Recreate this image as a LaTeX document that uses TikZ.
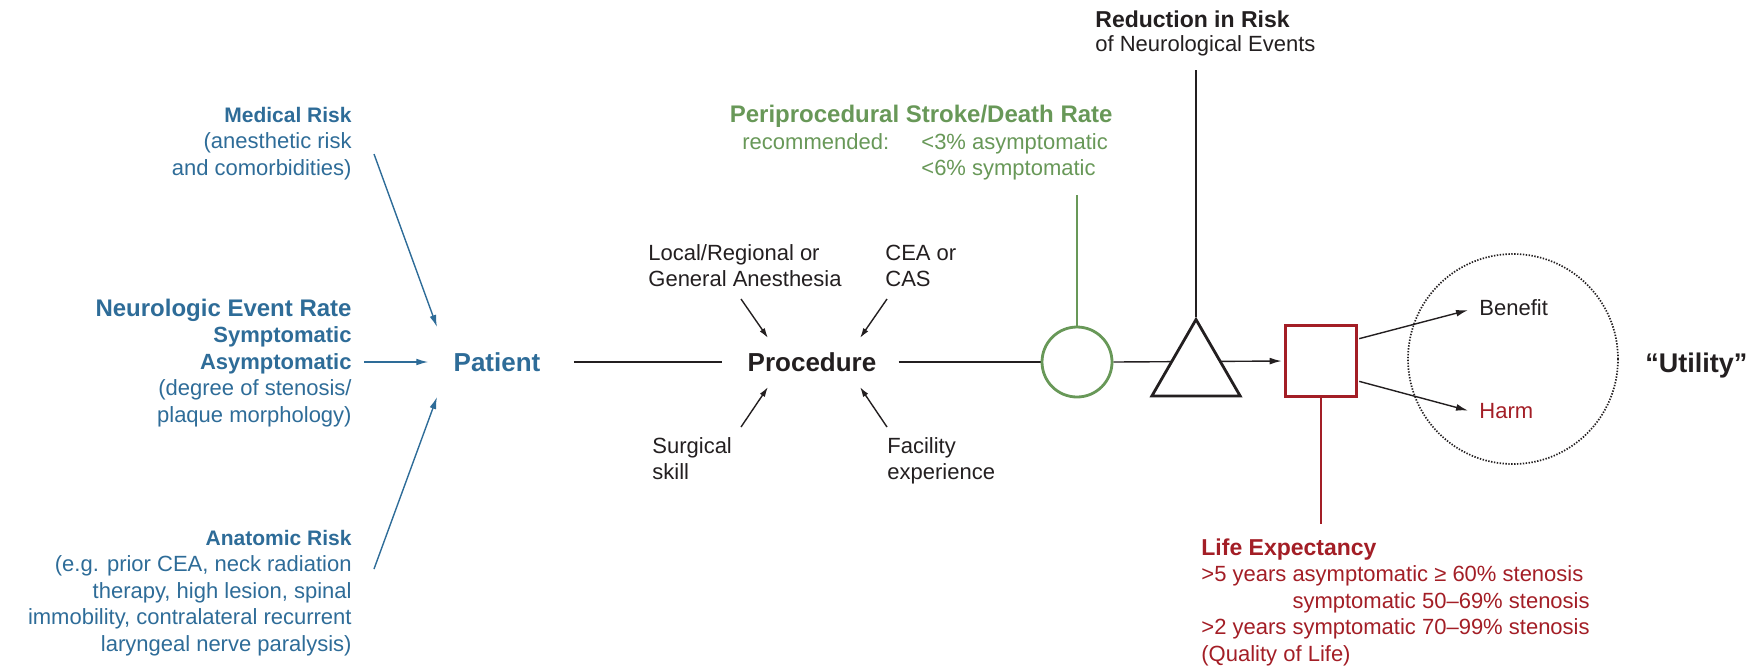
\documentclass[tikz,border=0pt]{standalone}
\usepackage{fontspec}
\setmainfont{Liberation Sans}
\usetikzlibrary{arrows.meta,shapes.geometric,backgrounds}
\definecolor{cblue}{RGB}{46,108,152}
\definecolor{cgreen}{RGB}{104,152,88}
\definecolor{cred}{RGB}{163,30,38}
\definecolor{cblack}{RGB}{35,31,32}
\newcommand\rblock[1]{\begin{tabular}[t]{@{}r@{}}#1\end{tabular}}
\newcommand\lblock[1]{\begin{tabular}[t]{@{}l@{}}#1\end{tabular}}
\newcommand\hd[1]{\fontsize{#1}{13.3}\selectfont\bfseries}
\begin{document}
\begin{tikzpicture}[x=0.5pt,y=-0.5pt,
  txt/.style={inner sep=0pt, font=\fontsize{11}{13.3}\selectfont},
  big/.style={inner sep=0pt, font=\fontsize{13}{15}\selectfont\bfseries},
  thinline/.style={line width=0.7pt},
  arr/.style={-{Latex[length=6pt,width=3.4pt]}, line width=0.7pt},
  sarr/.style={-{Latex[length=5pt,width=3pt]}, line width=0.7pt},
  shapeline/.style={line width=1.4pt}]
\useasboundingbox (0,0) rectangle (1764,671);

% left column texts
\node[txt, text=cblue, anchor=base east] (medical) at (352,122)
  {\rblock{\hd{10.5}Medical Risk\\(anesthetic risk\\and comorbidities)}};
\node[txt, text=cblue, anchor=base east] (neuro) at (352,316)
  {\rblock{\hd{12}Neurologic Event Rate\\\hd{11}Symptomatic\\\hd{11}Asymptomatic\\(degree of stenosis/\\plaque morphology)}};
\node[txt, text=cblue, anchor=base east] (anatomic) at (352,545)
  {\rblock{\hd{10.5}Anatomic Risk\\(e.g. prior CEA, neck radiation\\therapy, high lesion, spinal\\immobility, contralateral recurrent\\laryngeal nerve paralysis)}};

% main nodes
\node[big, text=cblue] (patient) at (497,362) {Patient};
\node[big, text=cblack] (procedure) at (812,362) {Procedure};

% procedure factors
\node[txt, text=cblack, anchor=base west] (anest) at (648,260) {\lblock{Local/Regional or\\General Anesthesia}};
\node[txt, text=cblack, anchor=base west] (ceacas) at (885,260) {\lblock{CEA or\\CAS}};
\node[txt, text=cblack, anchor=base west] (skill) at (652,453) {\lblock{Surgical\\skill}};
\node[txt, text=cblack, anchor=base west] (facility) at (887,453) {\lblock{Facility\\experience}};

% green texts
\node[txt, text=cgreen, anchor=base east] (peri) at (1113,122) {\hd{12}Periprocedural Stroke/Death Rate};
\node[txt, text=cgreen, anchor=base west] (recom) at (742,149) {recommended:};
\node[txt, text=cgreen, anchor=base west] (rates) at (921,149) {\lblock{<3\% asymptomatic\\<6\% symptomatic}};

% reduction text
\node[txt, text=cblack, anchor=base west] (reduction) at (1095,27)
  {\lblock{\hd{11.5}Reduction in Risk\\[-1.2pt]of Neurological Events}};

% life expectancy
\node[txt, text=cred, anchor=base west] (life) at (1201,555)
  {\lblock{\hd{11.5}Life Expectancy\\>5 years asymptomatic ≥ 60\% stenosis\\\hphantom{>5 years }symptomatic 50–69\% stenosis\\>2 years symptomatic 70–99\% stenosis\\(Quality of Life)}};

% shapes
\node[circle, draw=cgreen, shapeline, fill=white, minimum size=35pt, inner sep=0pt] (pcirc) at (1077,362) {};
\node[regular polygon, regular polygon sides=3, draw=cblack, shapeline, fill=white, minimum size=51pt, inner sep=0pt] (tri) at (1196,370.5) {};
\node[rectangle, draw=cred, shapeline, fill=white, minimum size=35.5pt, inner sep=0pt] (sq) at (1321,361) {};
\node[circle, draw=cblack, line width=0.85pt, dash pattern=on 0.7pt off 0.75pt, minimum size=105pt, inner sep=0pt] (util) at (1513,359) {};

\node[txt, text=cblack, anchor=base west] (benefit) at (1479,315) {Benefit};
\node[txt, text=cred, anchor=base west] (harm) at (1479,418) {Harm};
\node[inner sep=0pt, text=cblack, font=\fontsize{13.5}{15}\selectfont\bfseries, anchor=base west] (utility) at (1645,372) {“Utility”};

% free ends
\coordinate (medtail) at (374,154);
\coordinate (medhead) at (437,327);
\coordinate (asytail) at (364,362);
\coordinate (anatail) at (374,569);
\coordinate (anahead) at (437,397);
\coordinate (p1t) at (741,299); \coordinate (p1h) at (768,338);
\coordinate (p2t) at (887,299); \coordinate (p2h) at (860,338);
\coordinate (p3t) at (741,427); \coordinate (p3h) at (768,387);
\coordinate (p4t) at (887,427); \coordinate (p4h) at (860,387);
\coordinate (gtop) at (1077,195);
\coordinate (btop) at (1196,70);
\coordinate (rbot) at (1321,524);

% connectors
\draw[arr, cblue] (medtail) -- (medhead);
\draw[arr, cblue, shorten >=12.5pt] (asytail) -- (patient.west);
\draw[arr, cblue] (anatail) -- (anahead);
\draw[thinline, cblack, shorten <=16.5pt, shorten >=12.5pt] (patient.east) -- (procedure.west);
\draw[sarr, cblack] (p1t) -- (p1h);
\draw[sarr, cblack] (p2t) -- (p2h);
\draw[sarr, cblack] (p3t) -- (p3h);
\draw[sarr, cblack] (p4t) -- (p4h);
\begin{pgfonlayer}{background}
\draw[thinline, cblack, shorten <=11pt] (procedure.east) -- (pcirc.west);
\draw[arr, cblack, shorten >=1.2pt] (pcirc.east) -- (sq.west);
\end{pgfonlayer}
\draw[shapeline, cgreen] (pcirc.north) -- (gtop);
\draw[shapeline, cblack] (tri.corner 1) -- (btop);
\draw[shapeline, cred] (sq.south) -- (rbot);
\draw[arr, cblack, shorten <=0.7pt] ([yshift=11pt]sq.east) -- ([xshift=-5.5pt,yshift=-1.5pt]benefit.west);
\draw[arr, cblack, shorten <=0.7pt] ([yshift=-10pt]sq.east) -- ([xshift=-5.5pt]harm.west);
\end{tikzpicture}
\end{document}
